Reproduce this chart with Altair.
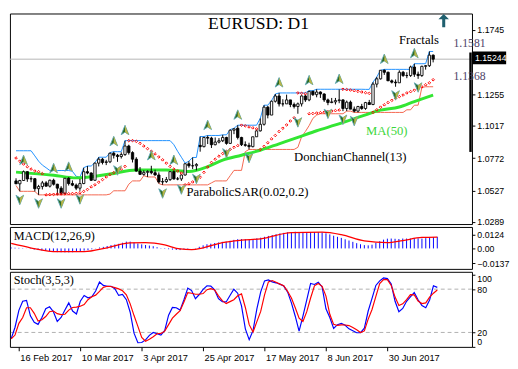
import altair as alt
import pandas as pd

# ---------------- data ----------------
opens = [1.0600,1.0578,1.0603,1.0670,1.0615,1.0617,1.0541,1.0557,1.0585,1.0560,
         1.0605,1.0575,1.0545,1.0506,1.0620,1.0580,1.0568,1.0545,1.0580,1.0670,
         1.0660,1.0605,1.0735,1.0765,1.0740,1.0745,1.0810,1.0795,1.0785,1.0800,
         1.0865,1.0815,1.0765,1.0675,1.0650,1.0665,1.0672,1.0662,1.0645,1.0592,
         1.0595,1.0610,1.0670,1.0615,1.0615,1.0645,1.0730,1.0715,1.0715,1.0870,
         1.0860,1.0930,1.0925,1.0875,1.0895,1.0905,1.0930,1.0885,1.0985,1.1000,
         1.0930,1.0875,1.0870,1.0860,1.0935,1.0980,1.1030,1.1160,1.1100,1.1205,
         1.1245,1.1185,1.1185,1.1215,1.1180,1.1165,1.1185,1.1245,1.1215,1.1280,
         1.1255,1.1275,1.1260,1.1215,1.1195,1.1200,1.1210,1.1215,1.1150,1.1198,
         1.1145,1.1130,1.1165,1.1150,1.1195,1.1180,1.1335,1.1375,1.1440,1.1425,
         1.1360,1.1350,1.1345,1.1425,1.1400,1.1400,1.1465,1.1410,1.1400,1.1470,
         1.1475,1.1555]
highs = [1.0620,1.0608,1.0679,1.0673,1.0635,1.0620,1.0570,1.0600,1.0598,1.0610,
         1.0617,1.0578,1.0560,1.0622,1.0628,1.0604,1.0580,1.0615,1.0700,1.0713,
         1.0665,1.0740,1.0780,1.0775,1.0760,1.0815,1.0822,1.0805,1.0817,1.0906,
         1.0875,1.0825,1.0780,1.0705,1.0680,1.0680,1.0715,1.0685,1.0665,1.0622,
         1.0630,1.0675,1.0680,1.0630,1.0650,1.0735,1.0750,1.0778,1.0735,1.0937,
         1.0935,1.0945,1.0935,1.0930,1.0925,1.0950,1.0935,1.0990,1.1000,1.1023,
         1.0935,1.0900,1.0890,1.0935,1.0990,1.1075,1.1175,1.1170,1.1210,1.1260,
         1.1268,1.1220,1.1255,1.1215,1.1195,1.1195,1.1250,1.1255,1.1285,1.1285,
         1.1296,1.1280,1.1265,1.1225,1.1230,1.1230,1.1295,1.1220,1.1210,1.1210,
         1.1165,1.1170,1.1185,1.1200,1.1215,1.1350,1.1390,1.1440,1.1447,1.1430,
         1.1370,1.1370,1.1440,1.1435,1.1425,1.1475,1.1490,1.1430,1.1475,1.1480,
         1.1583,1.1560]
lows = [1.0577,1.0521,1.0600,1.0593,1.0590,1.0520,1.0494,1.0535,1.0557,1.0550,
        1.0565,1.0495,1.0494,1.0500,1.0565,1.0560,1.0530,1.0525,1.0575,1.0650,
        1.0600,1.0600,1.0710,1.0725,1.0720,1.0735,1.0770,1.0745,1.0770,1.0790,
        1.0800,1.0740,1.0670,1.0645,1.0640,1.0630,1.0650,1.0640,1.0580,1.0570,
        1.0585,1.0600,1.0610,1.0605,1.0600,1.0640,1.0700,1.0690,1.0680,1.0822,
        1.0855,1.0880,1.0850,1.0870,1.0885,1.0895,1.0875,1.0880,1.0955,1.0915,
        1.0865,1.0860,1.0839,1.0855,1.0935,1.0975,1.1020,1.1075,1.1100,1.1195,
        1.1165,1.1165,1.1185,1.1160,1.1150,1.1110,1.1165,1.1200,1.1205,1.1245,
        1.1235,1.1230,1.1200,1.1175,1.1190,1.1180,1.1190,1.1130,1.1130,1.1145,
        1.1120,1.1120,1.1140,1.1140,1.1180,1.1175,1.1310,1.1370,1.1405,1.1360,
        1.1340,1.1315,1.1345,1.1390,1.1380,1.1390,1.1390,1.1375,1.1390,1.1445,
        1.1465,1.1500]
closes = [1.0578,1.0603,1.0670,1.0615,1.0617,1.0541,1.0557,1.0585,1.0560,1.0605,
          1.0575,1.0545,1.0506,1.0620,1.0580,1.0568,1.0545,1.0580,1.0670,1.0660,
          1.0605,1.0735,1.0765,1.0740,1.0745,1.0810,1.0795,1.0785,1.0800,1.0865,
          1.0815,1.0765,1.0675,1.0650,1.0665,1.0672,1.0662,1.0645,1.0592,1.0595,
          1.0610,1.0670,1.0615,1.0615,1.0645,1.0730,1.0715,1.0715,1.0725,1.0860,
          1.0930,1.0925,1.0875,1.0895,1.0905,1.0930,1.0885,1.0985,1.0995,1.0930,
          1.0875,1.0870,1.0860,1.0935,1.0980,1.1030,1.1160,1.1100,1.1205,1.1245,
          1.1185,1.1185,1.1215,1.1180,1.1165,1.1185,1.1245,1.1215,1.1280,1.1255,
          1.1275,1.1260,1.1215,1.1195,1.1200,1.1210,1.1215,1.1150,1.1198,1.1145,
          1.1130,1.1165,1.1150,1.1195,1.1180,1.1335,1.1375,1.1440,1.1425,1.1360,
          1.1350,1.1345,1.1425,1.1400,1.1400,1.1465,1.1410,1.1400,1.1470,1.1475,
          1.1555,1.15244]

donchian_upper = [1.0829,1.0829,1.0829,1.0829,1.0829,1.0790,1.0750,1.0720,1.0700,1.0679,
                  1.0679,1.0679,1.0679,1.0679,1.0679,1.0673,1.0635,1.0628,1.0700,1.0713,
                  1.0713,1.0740,1.0780,1.0780,1.0780,1.0815,1.0822,1.0822,1.0822,1.0906,
                  1.0906,1.0906,1.0906,1.0906,1.0906,1.0906,1.0906,1.0906,1.0906,1.0906,
                  1.0906,1.0906,1.0875,1.0825,1.0780,1.0735,1.0750,1.0778,1.0778,1.0937,
                  1.0937,1.0945,1.0945,1.0945,1.0945,1.0950,1.0950,1.0990,1.1000,1.1023,
                  1.1023,1.1023,1.1023,1.1023,1.1023,1.1075,1.1175,1.1175,1.1210,1.1260,
                  1.1268,1.1268,1.1268,1.1268,1.1268,1.1268,1.1268,1.1268,1.1285,1.1285,
                  1.1296,1.1296,1.1296,1.1296,1.1296,1.1296,1.1296,1.1296,1.1296,1.1296,
                  1.1296,1.1296,1.1296,1.1295,1.1295,1.1350,1.1390,1.1440,1.1447,1.1447,
                  1.1447,1.1447,1.1447,1.1447,1.1447,1.1447,1.1490,1.1490,1.1490,1.1490,
                  1.1583,1.1583]
donchian_lower = [1.0565,1.0521,1.0521,1.0521,1.0521,1.0520,1.0494,1.0494,1.0494,1.0494,
                  1.0494,1.0494,1.0494,1.0494,1.0494,1.0494,1.0494,1.0494,1.0494,1.0494,
                  1.0494,1.0494,1.0494,1.0494,1.0494,1.0500,1.0525,1.0525,1.0525,1.0525,
                  1.0575,1.0600,1.0600,1.0600,1.0640,1.0630,1.0630,1.0630,1.0580,1.0570,
                  1.0570,1.0570,1.0570,1.0570,1.0570,1.0570,1.0570,1.0570,1.0570,1.0570,
                  1.0570,1.0570,1.0585,1.0600,1.0600,1.0600,1.0600,1.0640,1.0680,1.0680,
                  1.0680,1.0822,1.0839,1.0839,1.0839,1.0839,1.0839,1.0839,1.0839,1.0839,
                  1.0839,1.0839,1.0839,1.0839,1.0839,1.0855,1.0935,1.0975,1.1020,1.1075,
                  1.1100,1.1110,1.1110,1.1110,1.1110,1.1110,1.1110,1.1110,1.1130,1.1130,
                  1.1120,1.1120,1.1120,1.1120,1.1120,1.1120,1.1120,1.1120,1.1120,1.1120,
                  1.1120,1.1120,1.1120,1.1120,1.1140,1.1140,1.1175,1.1175,1.1310,1.1315,
                  1.1315,1.1315]
sar = [1.0774,1.0750,1.0728,1.0708,1.0690,1.0675,1.0670,1.0655,1.0494,1.0496,
       1.0498,1.0500,1.0501,1.0502,1.0503,1.0504,1.0505,1.0510,1.0520,1.0535,
       1.0555,1.0570,1.0590,1.0610,1.0630,1.0648,1.0663,1.0677,1.0690,1.0710,
       1.0906,1.0906,1.0900,1.0885,1.0865,1.0845,1.0825,1.0805,1.0782,1.0760,
       1.0735,1.0710,1.0690,1.0675,1.0660,1.0570,1.0578,1.0592,1.0610,1.0628,
       1.0665,1.0705,1.0740,1.0765,1.0788,1.0808,1.0825,1.0840,1.0855,1.0868,
       1.1023,1.1018,1.1010,1.1003,1.0995,1.0839,1.0862,1.0890,1.0919,1.0945,
       1.0975,1.1000,1.1025,1.1055,1.1079,1.1268,1.1265,1.1262,1.1110,1.1112,
       1.1115,1.1118,1.1122,1.1126,1.1130,1.1134,1.1138,1.1296,1.1293,1.1290,
       1.1285,1.1280,1.1275,1.1270,1.1265,1.1120,1.1140,1.1160,1.1178,1.1195,
       1.1212,1.1227,1.1240,1.1252,1.1268,1.1278,1.1289,1.1300,1.1314,1.1330,
       1.1345,1.1368]
ma_idx = [0, 10, 16, 25, 32, 40, 46, 51, 55, 60, 65, 70, 75, 80, 85, 92, 97, 102, 106, 111]
ma_val = [1.0667, 1.0643, 1.0623, 1.0652, 1.0683, 1.0683, 1.0672, 1.0709, 1.0758, 1.0795,
          1.0833, 1.0882, 1.0931, 1.0981, 1.1025, 1.1092, 1.1137, 1.1161, 1.1203, 1.1252]
frac_up_idx = [2, 10, 14, 26, 29, 36, 42, 51, 59, 70, 78, 86, 98, 106]
frac_up_val = [1.0679, 1.0617, 1.0628, 1.0822, 1.0906, 1.0715, 1.0680, 1.0945, 1.1023, 1.1268,
               1.1285, 1.1295, 1.1447, 1.1490]
frac_dn_idx = [1, 6, 12, 17, 27, 39, 44, 48, 56, 62, 75, 83, 87, 90, 101, 107]
frac_dn_val = [1.0521, 1.0494, 1.0494, 1.0525, 1.0745, 1.0570, 1.0600, 1.0680, 1.0875, 1.0839,
               1.1110, 1.1175, 1.1130, 1.1120, 1.1315, 1.1375]

macd_main = [0.0008,0.0006,0.0005,0.0003,0.0001,-0.0004,-0.0010,-0.0015,-0.0019,-0.0021,
             -0.0024,-0.0028,-0.0034,-0.0035,-0.0036,-0.0036,-0.0035,-0.0033,-0.0027,-0.0020,
             -0.0016,-0.0008,0.0002,0.0008,0.0014,0.0022,0.0030,0.0036,0.0042,0.0052,
             0.0062,0.0062,0.0054,0.0045,0.0037,0.0031,0.0026,0.0020,0.0011,0.0003,
             -0.0004,-0.0007,-0.0011,-0.0014,-0.0015,-0.0009,-0.0004,0.0000,0.0003,0.0015,
             0.0028,0.0038,0.0043,0.0049,0.0054,0.0060,0.0062,0.0070,0.0078,0.0084,
             0.0085,0.0084,0.0082,0.0086,0.0092,0.0098,0.0106,0.0114,0.0122,0.0130,
             0.0137,0.0142,0.0147,0.0150,0.0152,0.0150,0.0150,0.0149,0.0150,0.0150,
             0.0149,0.0146,0.0138,0.0128,0.0116,0.0106,0.0096,0.0083,0.0072,0.0060,
             0.0048,0.0038,0.0030,0.0028,0.0034,0.0050,0.0066,0.0080,0.0089,0.0090,
             0.0088,0.0086,0.0090,0.0090,0.0090,0.0094,0.0092,0.0090,0.0094,0.0096,
             0.0104,0.0106]
signal_idx = [0, 5, 12, 19, 25, 31, 35, 40, 44, 47, 50, 55, 60, 65, 73, 81, 86, 92, 98, 102, 107, 111]
signal_val = [0.0045, 0.0006, -0.0030, -0.0030, 0.0006, 0.0050, 0.0052, 0.0032, -0.0005, -0.0010,
              0.0006, 0.0052, 0.0075, 0.0088, 0.0145, 0.0148, 0.0125, 0.0068, 0.0052, 0.0072,
              0.0100, 0.0104]

stoch_k = [11.5,27.2,50.6,63.2,64.5,43.0,34.0,31.2,40.7,52.8,
           55.5,48.8,35.3,40.7,51.0,61.0,49.7,45.6,63.2,71.3,
           68.0,69.4,77.5,90.0,85.2,84.0,84.0,80.7,71.3,72.6,
           65.4,48.0,19.0,5.7,6.0,9.7,16.0,20.0,18.2,16.4,
           22.7,44.0,54.6,54.2,51.0,65.4,81.5,78.0,66.8,72.6,
           79.8,84.7,84.3,78.9,66.8,62.8,62.3,71.3,79.8,74.4,
           56.9,25.0,10.0,22.7,52.8,76.2,91.5,92.8,90.1,88.8,
           87.0,84.3,76.2,61.0,42.5,21.8,42.5,65.0,87.9,86.5,
           89.7,83.0,52.8,40.7,25.5,30.8,32.6,29.9,25.0,22.3,
           19.6,19.6,25.9,49.7,67.2,85.2,91.5,95.5,94.6,87.0,
           63.2,48.8,53.3,63.2,69.4,75.3,65.4,57.3,54.2,65.0,
           84.7,82.5]
stoch_d = [11.0,16.4,32.6,40.7,54.2,54.2,46.5,35.8,37.6,42.1,
           48.8,49.7,46.1,44.7,45.2,51.0,54.6,55.1,56.4,58.7,
           65.4,69.4,71.7,77.0,82.5,84.0,83.7,82.2,80.4,77.7,
           72.1,59.6,43.4,28.4,13.2,7.9,10.6,14.1,18.2,18.6,
           21.8,30.8,39.8,45.2,50.2,62.3,75.3,74.4,73.0,73.0,
           73.9,79.3,80.7,78.9,70.8,64.1,60.0,62.7,65.4,70.8,
           73.5,54.6,30.8,20.5,35.0,49.2,72.1,90.1,92.0,89.7,
           87.0,84.7,77.0,67.7,54.2,39.8,35.3,48.8,67.7,84.7,
           87.9,83.9,70.4,45.2,31.2,29.7,30.6,30.3,29.5,26.8,
           23.6,19.8,22.1,38.5,51.9,69.9,87.9,93.3,93.3,85.2,
           69.0,57.3,59.6,65.4,72.4,72.1,63.6,60.0,60.9,69.0,
           74.4,78.9]
stoch_levels = [20, 80]

date_ticks = [2, 18, 34, 50, 66, 82, 98]
date_labels = ["16 Feb 2017", "10 Mar 2017", "3 Apr 2017", "25 Apr 2017",
               "17 May 2017", "8 Jun 2017", "30 Jun 2017"]
price_ticks = [1.02894, 1.05274, 1.07724, 1.10174, 1.12554, 1.17454]
macd_ticks = [-0.01371, 0.0, 0.01246]
stoch_ticks = [0, 20, 80, 100]
last_price = 1.15244
fractal_high_label = "1.1581"
sar_label = "1.1368"

# ---------------- tables ----------------
n = len(opens)
idx = list(range(n))
bars = pd.DataFrame({"i": idx, "open": opens, "high": highs, "low": lows, "close": closes,
                     "dup": donchian_upper, "dlo": donchian_lower, "sar": sar})
ma_df = pd.DataFrame({"i": ma_idx, "v": ma_val})
fu_df = pd.DataFrame({"i": frac_up_idx, "v": frac_up_val})
fd_df = pd.DataFrame({"i": frac_dn_idx, "v": frac_dn_val})
macd_df = pd.DataFrame({"i": idx, "m": macd_main})
sig_df = pd.DataFrame({"i": signal_idx, "v": signal_val})
st_df = pd.DataFrame({"i": idx, "k": stoch_k, "d": stoch_d})
lvl_df = pd.DataFrame({"v": stoch_levels})
last_df = pd.DataFrame({"v": [last_price]})

# ---------------- layout ----------------
W = 474
H1, H2, H3 = 216, 43, 77
SANS = "Liberation Sans"
SERIF = "Liberation Serif"

xs = alt.Scale(domain=[-0.325, 120.04], nice=False, zero=False)
ys1 = alt.Scale(domain=[1.02724, 1.18712], nice=False, zero=False)
ys2 = alt.Scale(domain=[-0.01868, 0.01957], nice=False, zero=False)
ys3 = alt.Scale(domain=[0, 104.05], nice=False, zero=False)


def yaxis(values, expr, flush=None):
    kw = dict(orient="right", values=values, title=None, grid=False, domain=False,
              ticks=True, tickSize=3, tickColor="black", labelFont=SANS,
              labelFontSize=9, labelColor="black", labelPadding=2, labelOverlap=False,
              labelExpr=expr)
    if flush is not None:
        kw["labelFlush"] = flush
    return alt.Axis(**kw)


# labels are cut at the right edge of the picture, as in the original
ax1 = yaxis(price_ticks, "slice(format(datum.value, '.5f'), 0, 6)")
ax2 = yaxis(macd_ticks, "datum.value == 0 ? '0.00' : slice(format(datum.value, '.5f'), 0, datum.value < 0 ? 7 : 6)")
ax3 = yaxis(stoch_ticks, "format(datum.value, 'd')", flush=5)

date_expr = ("[" + ",".join("'%s'" % s for s in date_labels) + "][indexof(["
             + ",".join(str(t) for t in date_ticks) + "], datum.value)]")
axx = alt.Axis(orient="bottom", values=date_ticks, labelExpr=date_expr, title=None,
               grid=False, domain=False, ticks=True, tickSize=4, tickColor="black",
               labelAlign="left", labelBaseline="top", labelPadding=2, labelOffset=1,
               labelFont=SANS, labelFontSize=9.5, labelColor="black",
               labelFlush=False, labelOverlap=False)

X0 = alt.X("i:Q", scale=xs, axis=None)
X3 = alt.X("i:Q", scale=xs, axis=axx)


def Y1(f):
    return alt.Y(f, type="quantitative", scale=ys1, axis=ax1)


def Y2(f):
    return alt.Y(f, type="quantitative", scale=ys2, axis=ax2)


def Y3(f):
    return alt.Y(f, type="quantitative", scale=ys3, axis=ax3)


ONE = alt.Data(values=[{}])


def label(text, x, y, size=13, color="black", font=SERIF, align="left"):
    return alt.Chart(ONE).mark_text(text=text, font=font, fontSize=size, color=color,
                                    align=align, baseline="alphabetic").encode(
        x=alt.value(x), y=alt.value(y))


UP_ARROW = "M0,-1 L0.75,0.85 L0,0.35 L-0.75,0.85 Z"
UP_HALF = "M0,-1 L0.75,0.85 L0,0.35 Z"
DN_ARROW = "M0,1 L0.75,-0.85 L0,-0.35 L-0.75,-0.85 Z"
DN_HALF = "M0,1 L0.75,-0.85 L0,-0.35 Z"
BOX = "M-2.7,-1 L2.7,-1 L2.7,1 L-2.7,1 Z"
BIG_ARROW = "M0,-1 L0.8,-0.2 L0.23,-0.2 L0.23,1 L-0.23,1 L-0.23,-0.2 L-0.8,-0.2 Z"


def fractal(df, shape, half, dy):
    full = alt.Chart(df).mark_point(shape=shape, size=110, filled=True, fill="#2e6b22",
                                    stroke="#5fa8b8", strokeWidth=0.9, opacity=1,
                                    yOffset=dy).encode(x=X0, y=Y1("v"))
    side = alt.Chart(df).mark_point(shape=half, size=110, filled=True, fill="#b9b64a",
                                    strokeWidth=0, opacity=1,
                                    yOffset=dy).encode(x=X0, y=Y1("v"))
    return [full, side]


# ---------------- main panel ----------------
price_line = alt.Chart(last_df).mark_rule(color="#b4b4b4", strokeWidth=1).encode(y=Y1("v"))
d_up = alt.Chart(bars).mark_line(color="#1e90ff", strokeWidth=1).encode(x=X0, y=Y1("dup"))
d_lo = alt.Chart(bars).mark_line(color="#f4654d", strokeWidth=1).encode(x=X0, y=Y1("dlo"))
ma_line = alt.Chart(ma_df).mark_line(color="#33e633", strokeWidth=3,
                                     interpolate="monotone").encode(x=X0, y=Y1("v"))
wicks = alt.Chart(bars).mark_rule(color="black", strokeWidth=1).encode(
    x=X0, y=Y1("low"), y2=alt.Y2("high"))
bodies = alt.Chart(bars).mark_bar(size=2.4, stroke="black", strokeWidth=0.9).encode(
    x=X0, y=Y1("open"), y2=alt.Y2("close"),
    fill=alt.condition("datum.close >= datum.open", alt.value("white"), alt.value("black")))
sar_pts = alt.Chart(bars).mark_point(shape="diamond", size=7, color="#ff0000",
                                     strokeWidth=1, opacity=1).encode(x=X0, y=Y1("sar"))
box = alt.Chart(last_df).mark_point(shape=BOX, size=169, filled=True, color="black",
                                    opacity=1, yOffset=-1.3).encode(x=alt.value(W + 17.5), y=Y1("v"))
box_txt = alt.Chart(last_df).mark_text(text="%.5f" % last_price, font=SANS, fontSize=9,
                                       color="white", align="left", baseline="middle",
                                       yOffset=-1.3).encode(x=alt.value(W + 3), y=Y1("v"))
scale_bar = alt.Chart(ONE).mark_rule(color="black", strokeWidth=2.5).encode(
    x=alt.value(W - 1.5), y=alt.value(40), y2=alt.value(142))
big_arrow = alt.Chart(ONE).mark_point(shape=BIG_ARROW, size=182, filled=True,
                                      color="#1f5f6e", opacity=1).encode(
    x=alt.value(445), y=alt.value(7.25))

main = alt.layer(
    price_line, d_up, d_lo, ma_line, wicks, bodies, sar_pts,
    *fractal(fu_df, UP_ARROW, UP_HALF, -10.5),
    *fractal(fd_df, DN_ARROW, DN_HALF, 8.5),
    box, box_txt, scale_bar, big_arrow,
    label("EURUSD: D1", 255, 16, size=18, align="center"),
    label("Fractals", 399, 31.3),
    label(fractal_high_label, 455, 34.7, size=12, color="#4e4468"),
    label(sar_label, 455, 68, size=12, color="#4e4468"),
    label("MA(50)", 365.3, 125, color="#3cd63c"),
    label("DonchianChannel(13)", 291.4, 151),
    label("ParabolicSAR(0.02,0.2)", 181.2, 187.5),
).properties(width=W, height=H1)

# ---------------- MACD panel ----------------
hist = alt.Chart(macd_df).mark_rule(color="#0000ff", strokeWidth=1).encode(
    x=X0, y=Y2("m"), y2=alt.datum(0))
sig = alt.Chart(sig_df).mark_line(color="#ff0000", strokeWidth=1.3,
                                  interpolate="monotone").encode(x=X0, y=Y2("v"))
macd_panel = alt.layer(hist, sig, label("MACD(12,26,9)", 3.9, 13, size=12.5)
                       ).properties(width=W, height=H2)

# ---------------- Stochastic panel ----------------
lv = alt.Chart(lvl_df).mark_rule(color="#b0b0b0", strokeWidth=1, strokeDash=[4, 3]).encode(y=Y3("v"))
k_line = alt.Chart(st_df).mark_line(color="#0000ff", strokeWidth=1.2).encode(x=X3, y=Y3("k"))
d_line = alt.Chart(st_df).mark_line(color="#ff0000", strokeWidth=1.2).encode(x=X3, y=Y3("d"))
stoch_panel = alt.layer(lv, k_line, d_line,
                        label("Stoch(3,5,3)", 3.9, 12, size=12.5)
                        ).properties(width=W, height=H3)

chart = alt.vconcat(main, macd_panel, stoch_panel, spacing=3).properties(
    padding=0, bounds="flush", background="white"
).configure_view(stroke="black", strokeWidth=1)

chart.save("out.html", embed_options={"renderer": "svg", "actions": False})
